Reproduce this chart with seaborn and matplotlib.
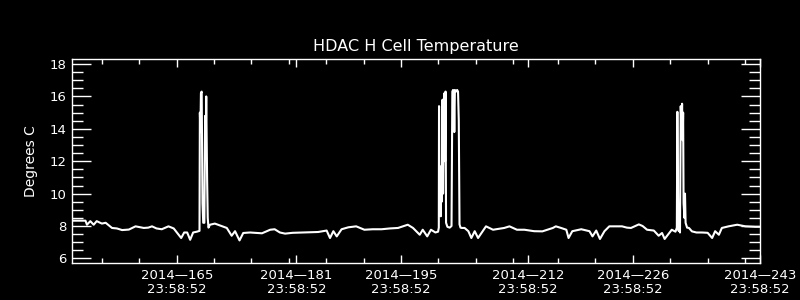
import matplotlib
matplotlib.use("Agg")
import matplotlib.pyplot as plt
from matplotlib.ticker import MultipleLocator, FixedLocator
import seaborn as sns
import pandas as pd

# ---- data (day of year 2014, temperature in deg C) ----
days = [
    151.0, 152.0, 152.8, 153.0, 153.45, 153.9, 154.3, 155.0, 155.5, 156.35, 157.0, 157.7, 158.6, 159.5, 160.6,
    161.2, 161.7, 162.3, 163.0, 163.9, 164.6, 165.6, 166.0, 166.4, 166.8, 167.2, 167.7, 168.05,
    168.10, 168.17, 168.24, 168.34, 168.45, 168.55, 168.70, 168.80, 168.87, 168.95, 169.07, 169.15, 169.25,
    169.45, 170.1, 170.8, 171.7, 172.35, 172.8, 173.4, 173.9, 174.8, 176.4, 177.5, 178.1, 178.8, 179.5,
    180.5, 181.9, 183.0, 183.9, 185.05, 185.5, 185.95, 186.4, 187.05, 187.95,
    189.0, 190.1, 191.2, 192.4, 193.5, 194.6, 195.9, 196.6, 197.5, 197.9, 198.5, 199.0, 199.6, 199.95,
    200.05, 200.08, 200.14, 200.22, 200.31, 200.38, 200.44, 200.55, 200.62, 200.70, 200.80, 200.88, 200.95,
    201.02, 201.2, 201.5, 201.75, 201.86, 201.95, 202.05, 202.12, 202.2, 202.35, 202.5, 202.62, 202.72,
    202.82, 202.95, 203.1, 203.5, 204.0, 204.4, 204.85, 205.3, 206.36, 207.3, 208.0, 208.8, 209.5, 210.5,
    211.5, 212.8, 213.9, 215.3, 215.7, 216.4, 217.1, 217.4, 217.9, 219.1, 220.2, 220.6, 221.1, 221.6,
    222.2, 222.85, 223.75, 224.55, 225.2, 225.75, 226.8, 227.3, 227.9, 228.8, 229.45, 229.9, 230.25,
    230.8, 231.2, 231.7, 231.88, 231.95, 232.05, 232.12, 232.2, 232.3, 232.4, 232.5, 232.58, 232.66,
    232.72, 232.78, 232.9, 232.97, 233.05, 233.25, 233.5, 233.9, 234.5, 235.25, 236.0, 236.6, 237.0,
    237.5, 237.9, 238.8, 239.95, 241.05, 242.4, 243.0,
]
temps = [
    8.33, 8.33, 8.33, 8.08, 8.30, 8.08, 8.30, 8.15, 8.20, 7.88, 7.85, 7.75, 7.78, 7.98, 7.88,
    7.90, 7.98, 7.85, 7.80, 7.98, 7.85, 7.26, 7.60, 7.60, 7.15, 7.60, 7.65, 7.70,
    15.0, 13.8, 16.2, 16.3, 9.4, 8.2, 8.2, 14.8, 12.6, 16.0, 10.8, 8.5, 7.9,
    8.08, 8.15, 8.03, 7.88, 7.40, 7.68, 7.11, 7.57, 7.60, 7.55, 7.77, 7.80, 7.60, 7.53,
    7.58, 7.60, 7.62, 7.63, 7.72, 7.26, 7.68, 7.36, 7.80, 7.92,
    7.98, 7.77, 7.80, 7.80, 7.85, 7.88, 8.08, 7.88, 7.46, 7.77, 7.36, 7.77, 7.60, 7.65,
    7.90, 15.4, 9.0, 11.0, 8.6, 11.7, 9.5, 15.8, 10.0, 14.0, 16.2, 12.0, 16.3,
    8.2, 7.95, 7.90, 8.0, 16.3, 16.4, 16.2, 13.8, 16.4, 16.3, 16.4, 16.3, 14.5,
    8.1, 7.90, 7.88, 7.88, 7.68, 7.26, 7.68, 7.26, 7.98, 7.77, 7.82, 7.88, 7.98, 7.77,
    7.77, 7.68, 7.67, 7.88, 7.98, 7.88, 7.77, 7.26, 7.68, 7.80, 7.68, 7.36, 7.72, 7.20,
    7.68, 7.98, 7.98, 7.98, 7.90, 7.88, 8.10, 8.00, 7.77, 7.72, 7.40, 7.57, 7.20,
    7.53, 7.77, 7.65, 7.90, 15.05, 9.0, 7.7, 8.2, 7.6, 15.4, 14.0, 15.55, 13.3,
    15.0, 9.4, 8.5, 10.0, 8.2, 7.9, 7.88, 7.67, 7.60, 7.60, 7.58, 7.26, 7.68,
    7.46, 7.88, 7.98, 8.08, 7.98, 7.95, 7.95,
]

major_days = [165, 181, 195, 212, 226, 243]
minor_days = [155, 160, 170, 175, 180, 185, 190, 200, 205, 210, 216, 221, 231, 236, 241]
tick_labels = ["2014\u2014%d\n23:58:52" % d for d in major_days]

title = "HDAC H Cell Temperature"
ylabel = "Degrees C"

df = pd.DataFrame({"day": days, "temp": temps})

sns.set_style("dark")
plt.rcParams["font.family"] = ["DejaVu Sans"]
plt.rcParams.update({
    "figure.facecolor": "black",
    "axes.facecolor": "black",
    "axes.edgecolor": "white",
    "text.color": "white",
    "axes.labelcolor": "white",
    "xtick.color": "white",
    "ytick.color": "white",
    "axes.grid": False,
})

fig = plt.figure(figsize=(8, 3), dpi=100)
ax = fig.add_axes([0.09, 0.1233, 0.86, 0.68])

sns.lineplot(data=df, x="day", y="temp", ax=ax, color="white", lw=1.5,
             estimator=None, sort=False)

ax.set_xlim(151, 243)
ax.set_ylim(5.716, 18.31)

ax.xaxis.set_major_locator(FixedLocator(major_days))
ax.xaxis.set_minor_locator(FixedLocator(minor_days))
ax.set_xticklabels(tick_labels, fontsize=9.5, linespacing=1.1)
ax.yaxis.set_major_locator(MultipleLocator(2))
ax.yaxis.set_minor_locator(MultipleLocator(0.5))
ax.tick_params(axis="y", labelsize=9.5)

ax.tick_params(axis="x", which="major", direction="in", length=6, width=1,
               top=True, bottom=True, pad=4)
ax.tick_params(axis="x", which="minor", direction="in", length=3.5, width=1,
               top=True, bottom=True)
ax.tick_params(axis="y", which="major", direction="in", length=14, width=1,
               left=True, right=True, pad=4)
ax.tick_params(axis="y", which="minor", direction="in", length=8, width=1,
               left=True, right=True)

for s in ax.spines.values():
    s.set_color("white")
    s.set_linewidth(1)
    s.set_visible(True)

ax.set_xlabel("")
ax.set_ylabel(ylabel, fontsize=10, labelpad=8)
ax.set_title(title, fontsize=11.5, pad=6)

fig.savefig("out.png", dpi=100, facecolor="black")
